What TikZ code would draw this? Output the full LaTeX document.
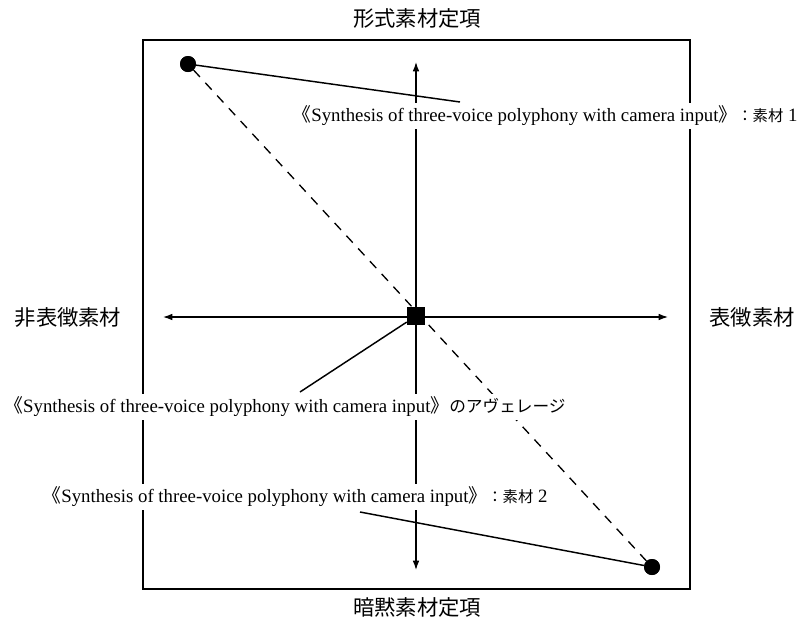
\documentclass[tikz,border=0pt]{standalone}
\usepackage{fontspec}
\setmainfont{Liberation Serif}
\newfontfamily\jp{Noto Sans CJK JP}
\usetikzlibrary{arrows.meta}
\newcommand{\jpsmall}[2][11.5]{{\jp\fontsize{#1}{14}\selectfont #2}}
\newcommand{\work}{{\jp 《}Synthesis of three-voice polyphony with camera input{\jp 》}}
\tikzset{
  axislabel/.style={font=\jp\fontsize{16}{18}\selectfont, inner sep=1pt},
  worklabel/.style={fill=white, inner sep=1pt, minimum height=20pt, font=\fontsize{14.1}{15}\selectfont},
  dot/.style={circle, fill=black, inner sep=0pt, minimum size=12pt},
  mean/.style={rectangle, fill=black, inner sep=0pt, minimum size=13.5pt},
  axis/.style={line width=0.9pt, {Latex[length=7pt,width=5pt]}-{Latex[length=7pt,width=5pt]}},
  leader/.style={line width=1.1pt}
}
\begin{document}
\begin{tikzpicture}[x=0.75pt, y=-0.75pt]
\useasboundingbox (0,0) rectangle (800,626);
\node[axislabel] (formal) at (417,18) {形式素材定項};
\node[axislabel] (tacit) at (417,607) {暗黙素材定項};
\node[axislabel] (nonrep) at (68,317) {非表徴素材};
\node[axislabel] (rep) at (752,317) {表徴素材};
\draw[line width=1pt] (143,40) rectangle (690,589);
\coordinate (vtop) at (416,62);
\coordinate (vbot) at (416,570);
\coordinate (hleft) at (163,317);
\coordinate (hright) at (668,317);
\draw[axis] (vtop) -- (vbot);
\draw[axis] (hleft) -- (hright);
\node[dot] (mat1) at (188,64) {};
\node[dot] (mat2) at (652,567) {};
\node[mean] (avg) at (416,316) {};
\draw[line width=1pt, dash pattern=on 7pt off 6pt] (mat1) -- (mat2);
\node[worklabel] (lbl1) at (545,116) {\work\jpsmall{：素材} 1};
\node[worklabel] (lbl2) at (285,407) {\work\jpsmall[12.5]{のアヴェレージ}};
\node[worklabel] (lbl3) at (295,497) {\work\jpsmall{：素材} 2};
\coordinate (c1) at (460,102);
\coordinate (c2) at (300,392);
\coordinate (c3) at (360,512);
\draw[leader] (mat1) -- (c1);
\draw[leader] (avg) -- (c2);
\draw[leader] (c3) -- (mat2);
\node[dot] at (mat1) {};
\node[dot] at (mat2) {};
\node[mean] at (avg) {};
\end{tikzpicture}
\end{document}
